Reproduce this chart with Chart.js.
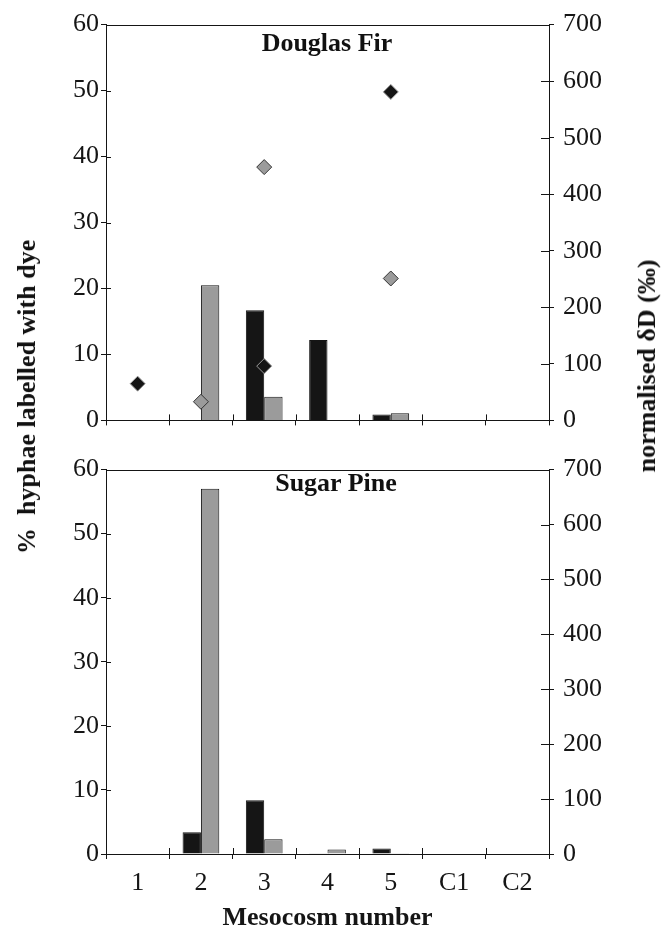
<!DOCTYPE html>
<html>
<head>
<meta charset="utf-8">
<script src="https://cdn.jsdelivr.net/npm/chart.js@4.4.1/dist/chart.umd.min.js"></script>
<style>
  html, body { margin: 0; padding: 0; background: #fff; }
  #wrap { position: relative; width: 661px; height: 939px; overflow: hidden; font-family: 'Liberation Serif', 'Times New Roman', serif; color: #111; }
  canvas { position: absolute; left: 0; }
  .lbl { position: absolute; font-weight: bold; font-size: 26px; white-space: pre; line-height: 1; }
  .rot { transform: translate(-50%, -50%) rotate(-90deg); }
  .ctr { transform: translate(-50%, -50%); }
</style>
</head>
<body>
<div id="wrap">
  <canvas id="firChart" style="top:0" width="661" height="445"></canvas>
  <canvas id="pineChart" style="top:445px" width="661" height="494"></canvas>
  <div class="lbl ctr" style="left:327px; top:43px">Douglas Fir</div>
  <div class="lbl ctr" style="left:336px; top:483px">Sugar Pine</div>
  <div class="lbl rot" style="left:27px; top:397px">%  hyphae labelled with dye</div>
  <div class="lbl rot" style="left:647px; top:366px">normalised δD (‰)</div>
</div>
<script>
// mesocosms along the x axis
const categories = ['1', '2', '3', '4', '5', 'C1', 'C2'];

// Douglas fir panel: % hyphae labelled (bars) and normalised dD (diamonds)
const firBlackBars = [null, null, 16.7, 12.2, 0.9, null, null];
const firGreyBars = [null, 20.5, 3.6, null, 1.1, null, null];
const firBlackDiamonds = [65, null, 96, null, 581, null, null];
const firGreyDiamonds = [null, 33, 448, null, 251, null, null];

// Sugar pine panel
const pineBlackBars = [null, 3.4, 8.4, 0.1, 0.85, null, null];
const pineGreyBars = [null, 57.0, 2.3, 0.7, 0.1, null, null];

// axis ticks
const pctTicks = [0, 10, 20, 30, 40, 50, 60];
const deltaTicks = [0, 100, 200, 300, 400, 500, 600, 700];

const INK = '#151515';
const GREY = '#9b9b9b';
const tickFont = { family: "'Liberation Serif', 'Times New Roman', serif", size: 26 };

// inner half of the crossing tick marks plus the top edge of the box
const boxTicks = {
  id: 'boxTicks',
  afterDatasetsDraw(chart) {
    const { ctx, chartArea: a, scales } = chart;
    ctx.save();
    ctx.strokeStyle = INK;
    ctx.lineWidth = 1;
    ctx.beginPath();
    ctx.moveTo(a.left, Math.round(a.top) + 0.5);
    ctx.lineTo(a.right, Math.round(a.top) + 0.5);
    scales.y.ticks.forEach(t => {
      const y = Math.round(scales.y.getPixelForValue(t.value)) + 0.5;
      ctx.moveTo(a.left, y);
      ctx.lineTo(a.left + 5, y);
    });
    scales.y1.ticks.forEach(t => {
      const y = Math.round(scales.y1.getPixelForValue(t.value)) + 0.5;
      ctx.moveTo(a.right - 8, y);
      ctx.lineTo(a.right, y);
    });
    for (let i = 0; i <= categories.length; i++) {
      const x = Math.round(scales.x.getPixelForValue(i - 0.5)) + 0.5;
      ctx.moveTo(x, a.bottom - 6);
      ctx.lineTo(x, a.bottom);
    }
    ctx.stroke();
    ctx.restore();
  }
};

function barSet(data, colour) {
  return {
    type: 'bar',
    data: data,
    backgroundColor: colour,
    borderColor: INK,
    borderWidth: 1,
    categoryPercentage: 0.58,
    barPercentage: 1.0,
    yAxisID: 'y',
    order: 1
  };
}

function diamondSet(data, fill, edge) {
  return {
    type: 'line',
    data: data,
    showLine: false,
    pointStyle: 'rectRot',
    pointRadius: 7.5,
    pointBackgroundColor: fill,
    pointBorderColor: edge,
    pointBorderWidth: 1,
    yAxisID: 'y1',
    order: 0
  };
}

function makeOptions(padTop, xHeight, showX) {
  return {
    responsive: false,
    animation: false,
    events: [],
    layout: { padding: { top: padTop, left: 0, right: 0, bottom: 0 } },
    plugins: { legend: { display: false }, tooltip: { enabled: false } },
    scales: {
      x: {
        type: 'category',
        offset: true,
        grid: { offset: true, drawOnChartArea: false, tickLength: 5, color: INK },
        border: { color: INK, width: 1 },
        ticks: { display: showX, font: tickFont, color: INK, padding: 9 },
        title: {
          display: showX,
          text: 'Mesocosm number',
          font: { family: tickFont.family, size: 26, weight: 'bold' },
          color: INK,
          padding: { top: 0, bottom: 5 }
        },
        afterFit(s) { s.height = xHeight; }
      },
      y: {
        position: 'left',
        min: 0,
        max: 60,
        afterBuildTicks(s) { s.ticks = pctTicks.map(v => ({ value: v })); },
        grid: { drawOnChartArea: false, tickLength: 5, color: INK },
        border: { color: INK, width: 1 },
        ticks: { font: tickFont, color: INK, padding: 2 },
        afterFit(s) { s.width = 106; }
      },
      y1: {
        position: 'right',
        min: 0,
        max: 700,
        afterBuildTicks(s) { s.ticks = deltaTicks.map(v => ({ value: v })); },
        grid: { drawOnChartArea: false, tickLength: 5, color: INK },
        border: { color: INK, width: 1 },
        ticks: { font: tickFont, color: INK, padding: 9 },
        afterFit(s) { s.width = 112; }
      }
    }
  };
}

new Chart(document.getElementById('firChart'), {
  data: {
    labels: categories,
    datasets: [
      diamondSet(firBlackDiamonds, INK, '#9a9a9a'),
      diamondSet(firGreyDiamonds, GREY, '#333333'),
      barSet(firBlackBars, INK),
      barSet(firGreyBars, GREY)
    ]
  },
  options: makeOptions(19, 16, false),
  plugins: [boxTicks]
});

new Chart(document.getElementById('pineChart'), {
  data: {
    labels: categories,
    datasets: [
      barSet(pineBlackBars, INK),
      barSet(pineGreyBars, GREY)
    ]
  },
  options: makeOptions(14, 85, true),
  plugins: [boxTicks]
});
</script>
</body>
</html>
